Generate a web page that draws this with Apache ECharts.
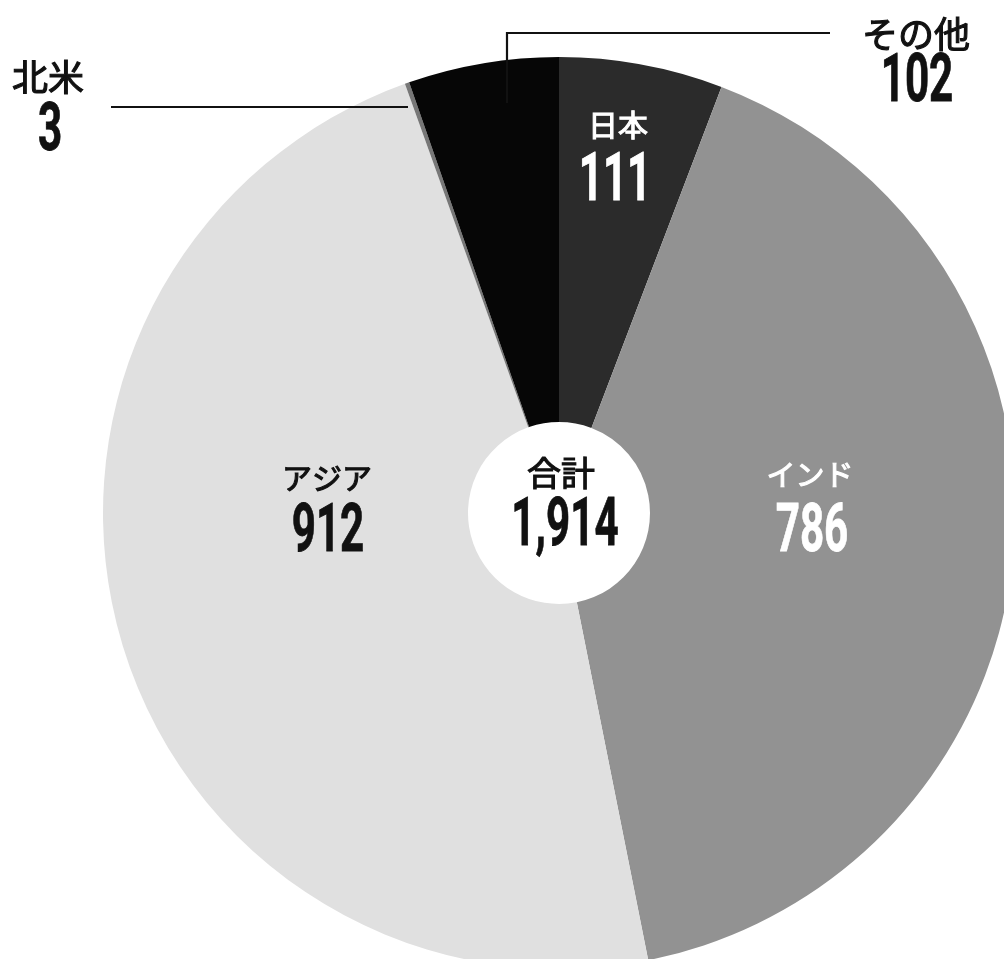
<!DOCTYPE html>
<html>
<head>
<meta charset="utf-8">
<title>内訳</title>
<script src="https://cdn.jsdelivr.net/npm/echarts@6/dist/echarts.min.js"></script>
<style>
  html, body { margin: 0; padding: 0; background: #ffffff; }
  #chart { width: 1004px; height: 959px; }
</style>
</head>
<body>
<div id="chart"></div>
<script>
// Breakdown by region, clockwise from 12 o'clock
const categories = ['日本', 'インド', 'アジア', '北米', 'その他'];
const values = [111, 786, 912, 3, 102];
const totalName = '合計';
const sliceColors = ['#2b2b2b', '#929292', '#e0e0e0', '#777777', '#060606'];

const total = values.reduce((a, b) => a + b, 0);
const fmt = n => n.toLocaleString('en-US');

const CX = 559, CY = 513, R_IN = 91, R_OUT = 456;

// Where each name / number pair sits, and its colour
const labelPlaces = {
  '日本':   { name: [618, 125], num: [615, 183], color: '#ffffff', nameSize: 30 },
  'インド': { name: [810, 475], num: [812, 534], color: '#ffffff', nameSize: 29 },
  'アジア': { name: [327, 478], num: [328, 534], color: '#111111', nameSize: 30 },
  '北米':   { name: [48, 77],   num: [50, 133],  color: '#111111', nameSize: 36 },
  'その他': { name: [916, 34],  num: [917, 84],  color: '#111111', nameSize: 36 }
};
const totalPlace = { name: [561, 473], num: [565, 528], color: '#111111', nameSize: 34 };

const CJK = '"Noto Sans CJK JP", "Noto Sans", sans-serif';
const NUM = 'Roboto, "Liberation Sans", sans-serif';

function nameText(text, p) {
  return {
    type: 'text', x: p.name[0], y: p.name[1], z: 10,
    style: {
      text: text, fill: p.color, stroke: p.color, lineWidth: 1.1,
      font: 'normal ' + p.nameSize + 'px ' + CJK,
      textAlign: 'center', textVerticalAlign: 'middle'
    }
  };
}
function numText(text, p) {
  return {
    type: 'text', x: p.num[0], y: p.num[1], z: 10, scaleX: 0.63,
    style: {
      text: text, fill: p.color, stroke: p.color, lineWidth: 0.8,
      font: 'bold 67px ' + NUM,
      textAlign: 'center', textVerticalAlign: 'middle'
    }
  };
}

const graphics = [];
categories.forEach((c, i) => {
  const p = labelPlaces[c];
  graphics.push(nameText(c, p));
  graphics.push(numText(fmt(values[i]), p));
});
graphics.push(nameText(totalName, totalPlace));
graphics.push(numText(fmt(total), totalPlace));

// Leader lines for the two thin slices
graphics.push({
  type: 'polyline', z: 5,
  shape: { points: [[111, 107], [408, 107]] },
  style: { stroke: '#111111', lineWidth: 2.2, fill: null }
});
graphics.push({
  type: 'polyline', z: 5,
  shape: { points: [[830, 33], [507, 33], [507, 103]] },
  style: { stroke: '#111111', lineWidth: 2.2, fill: null }
});

const chart = echarts.init(document.getElementById('chart'), null, { renderer: 'canvas' });
chart.setOption({
  backgroundColor: '#ffffff',
  animation: false,
  series: [{
    type: 'pie',
    center: [CX, CY],
    radius: [R_IN, R_OUT],
    startAngle: 90,
    clockwise: true,
    avoidLabelOverlap: false,
    label: { show: false },
    labelLine: { show: false },
    itemStyle: { borderWidth: 0 },
    emphasis: { disabled: true },
    data: categories.map((c, i) => ({
      name: c, value: values[i], itemStyle: { color: sliceColors[i] }
    }))
  }],
  graphic: graphics
});
</script>
</body>
</html>
